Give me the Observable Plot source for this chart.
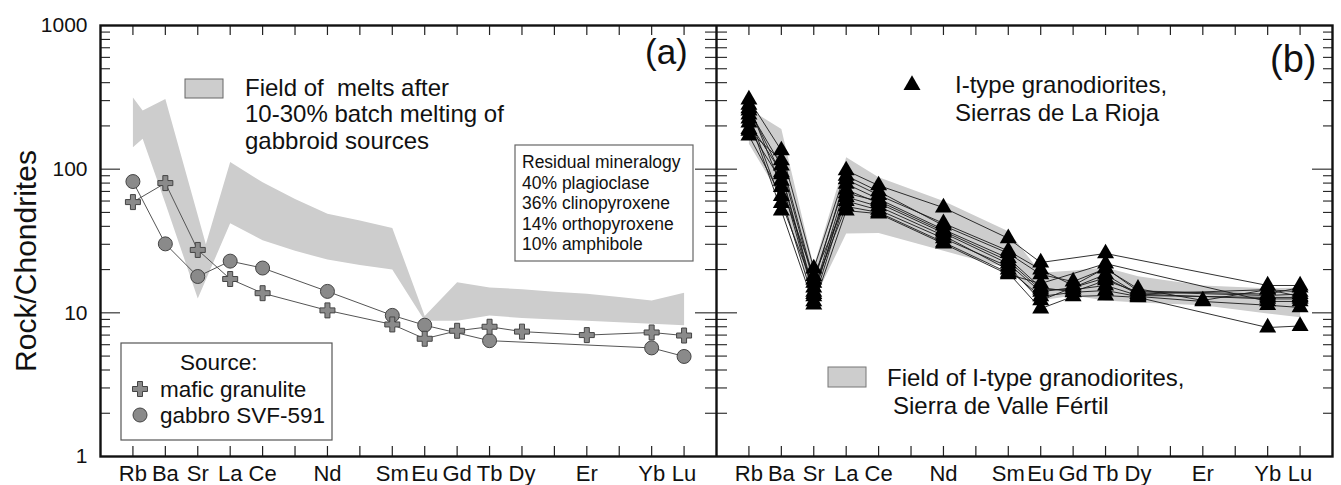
<!DOCTYPE html>
<html><head><meta charset="utf-8">
<script src="https://cdn.jsdelivr.net/npm/d3@7"></script>
<script src="https://cdn.jsdelivr.net/npm/@observablehq/plot@0.6"></script>
<style>
body{margin:0;background:#fff;}
#wrap{position:relative;width:1341px;height:485px;font-family:"Liberation Sans",Arial,sans-serif;}
#charts{display:flex;width:1341px;}
#charts svg{max-width:none;}
#overlay{position:absolute;left:0;top:0;pointer-events:none;font-family:"Liberation Sans",Arial,sans-serif;}
</style></head><body>
<div id="wrap"><div id="charts"></div><svg id="overlay" width="1341" height="485"></svg></div>
<script>
// ---------- data ----------
const elements = ["Rb","Ba","Sr","La","Ce","Pr","Nd","Pm","Sm","Eu","Gd","Tb","Dy","Ho","Er","Tm","Yb","Lu"];
const labeledElements = ["Rb","Ba","Sr","La","Ce","Nd","Sm","Eu","Gd","Tb","Dy","Er","Yb","Lu"];
const yTickValues = [1, 10, 100, 1000];
const yMinorValues = [2,3,4,5,6,7,8,9,20,30,40,50,60,70,80,90,200,300,400,500,600,700,800,900];
const yMajorInner = [10, 100];

// Panel (a): sources
const maficElements = ["Rb","Ba","Sr","La","Ce","Nd","Sm","Eu","Gd","Tb","Dy","Er","Yb","Lu"];
const maficValues   = [59, 80, 27.4, 17.2, 13.7, 10.4, 8.3, 6.6, 7.5, 8.0, 7.4, 7.0, 7.3, 6.95];
const gabbroElements = ["Rb","Ba","Sr","La","Ce","Nd","Sm","Eu","Tb","Yb","Lu"];
const gabbroValues   = [82, 30.2, 17.9, 22.9, 20.5, 14.1, 9.6, 8.2, 6.4, 5.7, 4.97];
// Panel (a): field of melts (edge positions as element index)
const meltUpperPos = [0, 0.3, 1, 2.25, 3, 4, 5, 6, 7, 8, 9, 10, 11, 12, 13, 14, 15, 16, 17];
const meltUpperVal = [316, 256, 308, 30, 112, 81, 62, 49, 44, 39, 9.5, 16.3, 15, 14.6, 14, 13.6, 12.9, 12.2, 13.8];
const meltLowerPos = [0, 0.3, 1, 2, 3, 4, 5, 6, 7, 8, 9, 10, 11, 12, 13, 14, 15, 16, 17];
const meltLowerVal = [142, 163, 58, 12.6, 42, 32, 27, 23.5, 21.5, 20, 8.8, 8.8, 9.6, 9.2, 9, 8.8, 8.6, 8.4, 8.2];

// Panel (b): I-type granodiorites, Sierras de La Rioja (order = labeledElements)
const rioja1  = [305, 135, 20.3, 98, 77, 54, 33, 22.4, null, 25.9, null, null, 15.5, 15.5];
const rioja2  = [256, 106, 16.2, 90, 70, 40.5, 26, 18.5, 16.5, 20.3, 14.7, 12.2, 14.5, 14];
const rioja3  = [211, 95, 14, 79, 62, 38, 24, 15, 14, 16.8, 14, null, 13.2, 13.5];
const rioja4  = [190, 83, 13, 72, 58, 36, 22, 14, 15, 17.5, 13.5, null, 12.5, 12.5];
const rioja5  = [171, 65, 12, 64, 55, 34.5, 20, 13, 13.9, 14.3, 13, 12, 11.3, 10.9];
const rioja6  = [280, 75, 18, 60, 52, 33, 21, 12.2, null, 18.5, 13.5, null, 14.5, 13];
const rioja7  = [240, 58, 15, 55, 50, 31, 19, 10.7, 13, 13.2, 12.8, null, 7.9, 8.1];
const rioja8  = [225, 51.5, 11.4, 51.5, 49, 30.3, 18.5, 16, null, 22, null, null, 12, 12];
const rioja9  = [185, 115, 17, 85, 66, 42, 27, 20, 15.5, 20.5, 14.2, null, 13.5, 15];
const rioja10 = [265, 92, 13.5, 68, 60, 37, 23, 14.5, 14.5, 15.5, 13.2, null, 12.8, 12.8];
// Panel (b): field of Sierra de Valle Fértil (order = labeledElements)
const valleUpper = [264, 190, 21, 121, 88, 60, 37, 19, 19.7, 20.7, 18, 15.5, 14.8, 15];
const valleLower = [150, 63, 12.2, 35.6, 36, 27, 20.4, 12.2, 13.2, 12.2, 11.8, 11.3, 9.9, 9.3];

// ---------- derived tables ----------
const idx = e => elements.indexOf(e);
const allPositions = elements.map((e, i) => i);
const labeledPositions = labeledElements.map(idx);
const mafic = maficElements.map((e, i) => ({x: idx(e), v: maficValues[i]}));
const gabbro = gabbroElements.map((e, i) => ({x: idx(e), v: gabbroValues[i]}));
const meltPoly = meltUpperPos.map((p, i) => ({x: p, v: meltUpperVal[i]}))
  .concat(meltLowerPos.map((p, i) => ({x: p, v: meltLowerVal[i]})).reverse());
const riojaSamples = [rioja1, rioja2, rioja3, rioja4, rioja5, rioja6, rioja7, rioja8, rioja9, rioja10];
const rioja = riojaSamples.flatMap((vals, s) => vals.map((v, i) => ({s, x: idx(labeledElements[i]), v})))
  .filter(d => d.v != null);
const vallePoly = labeledElements.map((e, i) => ({x: idx(e), v: valleUpper[i]}))
  .concat(labeledElements.map((e, i) => ({x: idx(e), v: valleLower[i]})).reverse());

// ---------- common ----------
const H = 485, MT = 25, MB = 29, PW = 616;
const fieldFill = "#cdcdcd";
const tickStroke = "#222";
function baseMarks(side) {
  const m = [
    Plot.ruleX(allPositions, {x: d => d, insetTop: H - MT - MB - 10, stroke: tickStroke, strokeWidth: 1.2}),
    Plot.ruleX(allPositions, {x: d => d, insetBottom: H - MT - MB - 10, stroke: tickStroke, strokeWidth: 1.2}),
    Plot.axisX(labeledPositions, {tickFormat: i => elements[i], tickSize: 0, tickPadding: 9, fontSize: 22, color: "#111", label: null})
  ];
  if (side === "a") {
    m.push(
      Plot.ruleY(yMinorValues, {y: d => d, insetRight: PW - 10, stroke: tickStroke, strokeWidth: 1.1}),
      Plot.ruleY(yMajorInner, {y: d => d, insetRight: PW - 20, stroke: tickStroke, strokeWidth: 1.1}),
      Plot.ruleY(yMinorValues, {y: d => d, insetLeft: PW - 11, stroke: tickStroke, strokeWidth: 1.1}),
      Plot.ruleY(yMajorInner, {y: d => d, insetLeft: PW - 21, stroke: tickStroke, strokeWidth: 1.1}),
      Plot.axisY(yTickValues, {tickSize: 0, tickPadding: 13, fontSize: 21, tickFormat: d => String(d), label: null, color: "#111"})
    );
  } else {
    m.push(
      Plot.ruleY(yMinorValues, {y: d => d, insetRight: PW - 11, stroke: tickStroke, strokeWidth: 1.1}),
      Plot.ruleY(yMajorInner, {y: d => d, insetRight: PW - 21, stroke: tickStroke, strokeWidth: 1.1}),
      Plot.ruleY(yMinorValues, {y: d => d, insetLeft: PW - 9, stroke: tickStroke, strokeWidth: 1.1}),
      Plot.ruleY(yMajorInner, {y: d => d, insetLeft: PW - 20, stroke: tickStroke, strokeWidth: 1.1})
    );
  }
  m.push(Plot.frame({stroke: "#111", strokeWidth: 2.4}));
  return m;
}
const common = {
  height: H, marginTop: MT, marginBottom: MB,
  x: {type: "linear", domain: [-1, 18], axis: null},
  y: {type: "log", domain: [1, 1000], axis: null},
  style: {fontFamily: "'Liberation Sans', Arial, sans-serif", background: "transparent", color: "#111"}
};

const plotA = Plot.plot({
  ...common, width: 716, marginLeft: 100, marginRight: 0,
  marks: [
    Plot.line(meltPoly, {x: "x", y: "v", fill: fieldFill, stroke: "none", curve: "linear"}),
    Plot.line(mafic, {x: "x", y: "v", stroke: "#555", strokeWidth: 1}),
    Plot.line(gabbro, {x: "x", y: "v", stroke: "#555", strokeWidth: 1}),
    Plot.dot(gabbro, {x: "x", y: "v", r: 7, fill: "#8a8a8a", stroke: "#444", strokeWidth: 1}),
    Plot.dot(mafic, {x: "x", y: "v", symbol: "cross", r: 6.3, fill: "#8a8a8a", stroke: "#444", strokeWidth: 1}),
    ...baseMarks("a")
  ]
});
const plotB = Plot.plot({
  ...common, width: 625, marginLeft: 0, marginRight: 9,
  marks: [
    Plot.line(vallePoly, {x: "x", y: "v", fill: fieldFill, stroke: "none", curve: "linear"}),
    Plot.line(rioja, {x: "x", y: "v", z: "s", stroke: "#1a1a1a", strokeWidth: 0.9}),
    Plot.dot(rioja, {x: "x", y: "v", symbol: "triangle", r: 6.3, fill: "#000", stroke: "none"}),
    ...baseMarks("b")
  ]
});
document.getElementById("charts").append(plotA, plotB);

// ---------- annotations / legends ----------
const ov = d3.select("#overlay");
function txt(x, y, s, size, anchor = "start") {
  return ov.append("text").attr("x", x).attr("y", y).attr("font-size", size)
    .attr("dominant-baseline", "central").attr("text-anchor", anchor).attr("fill", "#111").text(s);
}
// y-axis title
ov.append("text").attr("transform", "translate(25,261) rotate(-90)").attr("font-size", 30)
  .attr("text-anchor", "middle").attr("dominant-baseline", "central").attr("fill", "#111").text("Rock/Chondrites");
// panel letters
ov.append("text").attr("x", 645).attr("y", 64).attr("font-size", 35).attr("fill", "#111").text("(a)");
ov.append("text").attr("x", 1270).attr("y", 72).attr("font-size", 38).attr("fill", "#111").text("(b)");
// (a) melt field legend
ov.append("rect").attr("x", 185).attr("y", 79).attr("width", 38).attr("height", 19)
  .attr("fill", fieldFill).attr("stroke", "#666").attr("stroke-width", 1);
txt(245, 87, "Field of  melts after", 24).attr("xml:space", "preserve").style("white-space", "pre");
txt(245, 113, "10-30% batch melting of", 24);
txt(245, 140, "gabbroid sources", 24);
// residual mineralogy box
ov.append("rect").attr("x", 515).attr("y", 145).attr("width", 178).attr("height", 116)
  .attr("fill", "#fff").attr("stroke", "#666").attr("stroke-width", 1.2);
["Residual mineralogy", "40% plagioclase", "36% clinopyroxene", "14% orthopyroxene", "10% amphibole"]
  .forEach((s, i) => txt(522, 162 + i * 20.5, s, 17.5));
// source box
ov.append("rect").attr("x", 121).attr("y", 343).attr("width", 211).attr("height", 97)
  .attr("fill", "#fff").attr("stroke", "#555").attr("stroke-width", 1.2);
txt(180, 362, "Source:", 22.5);
ov.append("path").attr("d", d3.symbol(d3.symbolCross, Math.PI * 6.3 * 6.3)()).attr("transform", "translate(140,389)")
  .attr("fill", "#8a8a8a").attr("stroke", "#444");
txt(160, 389, "mafic granulite", 22.5);
ov.append("circle").attr("cx", 140).attr("cy", 415).attr("r", 7).attr("fill", "#8a8a8a").attr("stroke", "#444");
txt(160, 415, "gabbro SVF-591", 22.5);
// (b) legends
ov.append("path").attr("d", d3.symbol(d3.symbolTriangle, Math.PI * 6.3 * 6.3)()).attr("transform", "translate(912,85)")
  .attr("fill", "#000");
txt(955, 84, "I-type granodiorites,", 24);
txt(955, 112, "Sierras de La Rioja", 24);
ov.append("rect").attr("x", 828).attr("y", 367).attr("width", 38).attr("height", 20)
  .attr("fill", fieldFill).attr("stroke", "#777").attr("stroke-width", 1);
txt(887, 377, "Field of I-type granodiorites,", 24);
txt(893, 405, "Sierra de Valle Fértil", 24);
</script>
</body></html>
